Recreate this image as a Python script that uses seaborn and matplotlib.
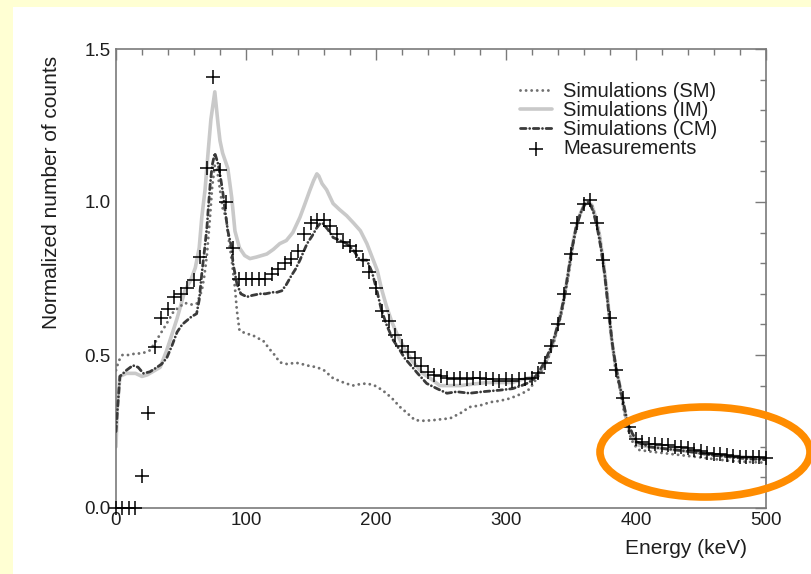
import numpy as np
import pandas as pd
import matplotlib
matplotlib.use("Agg")
import matplotlib.pyplot as plt
import seaborn as sns
from matplotlib.patches import Ellipse, Rectangle
from matplotlib.ticker import MultipleLocator, FormatStrFormatter

# ---------------- data ----------------
im_energy = [0, 1, 3, 8, 15, 20, 24, 30, 34, 39,
             44, 47, 53, 58, 61, 64, 66, 68.5, 71, 73,
             76, 78.5, 80, 82, 86, 89, 91.5, 95, 99, 103,
             108, 112, 116, 121, 126, 131, 136, 141.5, 145, 149,
             152, 154.5, 156, 158.5, 162, 167, 172, 177.5, 183, 188,
             193, 197, 201, 204, 208, 212, 216, 222, 228, 236,
             243, 249, 257, 265, 275, 285, 295, 305, 312, 318,
             323, 328, 332, 336, 340, 344, 348, 352, 356, 360,
             363, 366, 369, 372, 375, 378, 381, 384, 388, 392,
             395, 398, 402, 410, 420, 430, 440, 450, 460, 470,
             480, 490, 500]
im_counts = [0.2, 0.33, 0.43, 0.44, 0.44, 0.43, 0.435, 0.45, 0.46, 0.515,
             0.58, 0.62, 0.71, 0.75, 0.785, 0.85, 0.95, 1.04, 1.17, 1.27,
             1.36, 1.255, 1.2, 1.16, 1.11, 1.015, 0.905, 0.85, 0.825, 0.815,
             0.82, 0.825, 0.83, 0.845, 0.864, 0.874, 0.9, 0.95, 0.99, 1.037,
             1.07, 1.092, 1.085, 1.06, 1.04, 0.995, 0.975, 0.955, 0.93, 0.906,
             0.864, 0.82, 0.776, 0.72, 0.66, 0.61, 0.57, 0.52, 0.48, 0.44,
             0.42, 0.40, 0.40, 0.40, 0.405, 0.41, 0.41, 0.41, 0.42, 0.425,
             0.43, 0.455, 0.49, 0.535, 0.60, 0.67, 0.77, 0.88, 0.95, 0.99,
             1.0, 0.99, 0.95, 0.89, 0.80, 0.69, 0.56, 0.47, 0.39, 0.30,
             0.25, 0.225, 0.205, 0.2, 0.195, 0.19, 0.185, 0.18, 0.175, 0.17,
             0.168, 0.165, 0.16]

sm_energy = [0, 2, 5, 10, 15, 20, 26, 30, 35, 40,
             44, 48, 53, 58, 62, 66, 68, 70, 72.3, 74,
             76, 78, 80, 82, 84.6, 87, 89, 91.5, 93, 95,
             100, 105, 109, 113, 118, 122, 126, 132, 138, 141.5,
             148, 154.5, 160, 167, 175, 182, 188, 193, 199, 205,
             212, 218.5, 224, 230, 237, 244, 250, 257, 265, 272,
             280, 288, 295, 303, 310, 315, 318.5, 323, 328, 332,
             336, 340, 344, 348, 352, 356, 360, 363, 366, 369,
             372, 375, 378, 381, 384, 388, 392, 395, 398, 402,
             410, 420, 430, 440, 450, 460, 470, 480, 490, 500]
sm_counts = [0.45, 0.48, 0.50, 0.50, 0.505, 0.505, 0.515, 0.54, 0.575, 0.61,
             0.64, 0.655, 0.67, 0.665, 0.667, 0.71, 0.76, 0.83, 0.95, 1.05,
             1.12, 1.1, 1.04, 0.98, 0.95, 0.87, 0.81, 0.72, 0.645, 0.58,
             0.57, 0.565, 0.555, 0.548, 0.52, 0.5, 0.476, 0.47, 0.475, 0.472,
             0.465, 0.46, 0.45, 0.424, 0.41, 0.40, 0.405, 0.407, 0.40, 0.385,
             0.36, 0.33, 0.31, 0.287, 0.285, 0.287, 0.29, 0.293, 0.31, 0.33,
             0.335, 0.346, 0.35, 0.358, 0.37, 0.38, 0.39, 0.42, 0.45, 0.485,
             0.53, 0.59, 0.66, 0.76, 0.87, 0.95, 0.99, 1.0, 0.99, 0.95,
             0.89, 0.80, 0.69, 0.56, 0.46, 0.38, 0.29, 0.24, 0.21, 0.19,
             0.185, 0.18, 0.175, 0.17, 0.165, 0.16, 0.155, 0.152, 0.15, 0.148]

cm_energy = [0, 0.8, 3, 8, 13, 17, 21, 26, 31.5, 35,
             39, 43, 47, 51, 54.6, 58, 62, 64, 66, 68,
             70, 71, 72.5, 74, 76, 78.5, 80, 82, 84, 86,
             89, 90, 93, 96, 100.7, 105, 110.8, 115, 120.7, 124,
             127.6, 131, 135, 138, 141.5, 144, 147, 151, 154.5, 157,
             159, 163, 167, 172, 177.5, 183, 187.7, 193, 197, 200.7,
             204, 208, 213, 218.5, 222, 226, 232, 239, 247, 254.6,
             262, 272, 282, 295, 305, 312, 316, 321, 326, 330,
             334, 338, 342, 346, 350, 354, 358, 361, 364, 367,
             370, 373, 376, 379, 382, 385, 389, 393, 397, 401,
             410, 420, 430, 440, 450, 460, 470, 480, 490, 500]
cm_counts = [0.25, 0.30, 0.43, 0.45, 0.466, 0.46, 0.44, 0.445, 0.46, 0.47,
             0.49, 0.53, 0.575, 0.6, 0.613, 0.625, 0.635, 0.68, 0.766, 0.84,
             0.92, 0.98, 1.06, 1.12, 1.16, 1.125, 1.09, 1.037, 0.97, 0.906,
             0.85, 0.8, 0.733, 0.70, 0.69, 0.695, 0.70, 0.70, 0.705, 0.705,
             0.71, 0.73, 0.76, 0.78, 0.81, 0.835, 0.864, 0.89, 0.916, 0.93,
             0.93, 0.91, 0.884, 0.875, 0.864, 0.84, 0.81, 0.81, 0.77, 0.71,
             0.65, 0.60, 0.55, 0.515, 0.49, 0.47, 0.44, 0.407, 0.39, 0.375,
             0.38, 0.375, 0.38, 0.385, 0.39, 0.40, 0.407, 0.42, 0.45, 0.48,
             0.52, 0.57, 0.63, 0.72, 0.83, 0.92, 0.97, 0.995, 1.0, 0.97,
             0.92, 0.85, 0.76, 0.64, 0.53, 0.45, 0.37, 0.29, 0.245, 0.215,
             0.2, 0.195, 0.19, 0.185, 0.178, 0.172, 0.168, 0.163, 0.16, 0.158]

meas_energy = list(range(0, 505, 5))
meas_counts = [0, 0, 0, 0, 0.104, 0.31, 0.525, 0.62, 0.65, 0.69,
               0.70, 0.72, 0.745, 0.82, 1.11, 1.41, 1.105, 1.0, 0.85, 0.75,
               0.75, 0.75, 0.75, 0.75, 0.765, 0.78, 0.80, 0.815, 0.84, 0.897,
               0.93, 0.94, 0.94, 0.92, 0.895, 0.87, 0.855, 0.84, 0.81, 0.77,
               0.72, 0.645, 0.61, 0.565, 0.53, 0.51, 0.49, 0.465, 0.445, 0.435,
               0.43, 0.425, 0.42, 0.425, 0.42, 0.425, 0.425, 0.42, 0.42, 0.415,
               0.42, 0.415, 0.42, 0.42, 0.425, 0.44, 0.475, 0.53, 0.60, 0.70,
               0.83, 0.93, 0.995, 1.005, 0.93, 0.81, 0.62, 0.45, 0.36, 0.265,
               0.225, 0.215, 0.21, 0.21, 0.205, 0.205, 0.2, 0.198, 0.195, 0.19,
               0.185, 0.18, 0.178, 0.175, 0.172, 0.17, 0.168, 0.168, 0.167, 0.166,
               0.165]

x_ticks = [0, 100, 200, 300, 400, 500]
y_ticks = [0.0, 0.5, 1.0, 1.5]

# ---------------- figure ----------------
sns.set_theme(style="white")
plt.rcParams['font.family'] = ['Liberation Sans', 'DejaVu Sans']

W, H = 812, 574
fig = plt.figure(figsize=(W / 100, H / 100), dpi=100, facecolor='#FFFFD3')
fig.patches.append(Rectangle((13 / W, 0), 1, 1 - 7 / H, transform=fig.transFigure,
                             facecolor='white', edgecolor='none', zorder=-5))

ax = fig.add_axes([116 / W, 1 - 508 / H, 650 / W, 459 / H])
ax.set_facecolor('white')

sns.lineplot(x=im_energy, y=im_counts, ax=ax, sort=False, color='#c9c9c9',
             linewidth=2.6, label='Simulations (IM)', zorder=2)
sns.lineplot(x=sm_energy, y=sm_counts, ax=ax, sort=False, color='#707070',
             linewidth=2.1, linestyle=(0, (0.01, 1.9)), dash_capstyle='round',
             label='Simulations (SM)', zorder=3)
sns.lineplot(x=cm_energy, y=cm_counts, ax=ax, sort=False, color='#3a3a3a',
             linewidth=2.0, linestyle=(0, (2.0, 1.3, 0.01, 1.3)), dash_capstyle='round',
             label='Simulations (CM)', zorder=4)
sns.scatterplot(x=meas_energy, y=meas_counts, ax=ax, marker='+', s=90,
                color='black', linewidth=1.1, label='Measurements', zorder=5,
                clip_on=False)

ax.set_xlim(0, 500)
ax.set_ylim(0, 1.5)
ax.set_xticks(x_ticks)
ax.set_yticks(y_ticks)
ax.xaxis.set_minor_locator(MultipleLocator(20))
ax.yaxis.set_minor_locator(MultipleLocator(0.1))
ax.yaxis.set_major_formatter(FormatStrFormatter('%.1f'))
ax.tick_params(which='both', direction='in', top=True, right=True,
               color='#7a7a7a', labelcolor='#1e1e1e', width=1.0)
ax.tick_params(which='major', length=8, labelsize=13.5, pad=3)
ax.tick_params(which='minor', length=4.3)
ax.tick_params(axis='y', which='major', pad=4)
for sp in ax.spines.values():
    sp.set_color('#7a7a7a')
    sp.set_linewidth(1.2)
ax.set_xlabel('')
ax.set_ylabel('')

fig.text(52 / W, 1 - 192 / H, 'Normalized number of counts', rotation=90,
         ha='center', va='center', fontsize=15, color='#1e1e1e')
fig.text(747 / W, 1 - 549 / H, 'Energy (keV)', ha='right', va='center',
         fontsize=15, color='#1e1e1e')

handles, labels = ax.get_legend_handles_labels()
order = ['Simulations (SM)', 'Simulations (IM)', 'Simulations (CM)', 'Measurements']
hmap = dict(zip(labels, handles))
ax.legend([hmap[k] for k in order], order, loc='upper left',
          bbox_to_anchor=(520 / W, 1 - 82 / H), bbox_transform=fig.transFigure,
          frameon=False, fontsize=14.5, handlelength=1.6, handletextpad=0.55,
          labelspacing=0.0, borderpad=0, borderaxespad=0, labelcolor='#1e1e1e')

fig.add_artist(Ellipse((705 / W, 1 - 452 / H), 210 / W, 90 / H,
                       transform=fig.transFigure, fill=False,
                       edgecolor='#FF8C00', linewidth=5.5, zorder=10))

fig.savefig('out.png', dpi=100, facecolor=fig.get_facecolor())
